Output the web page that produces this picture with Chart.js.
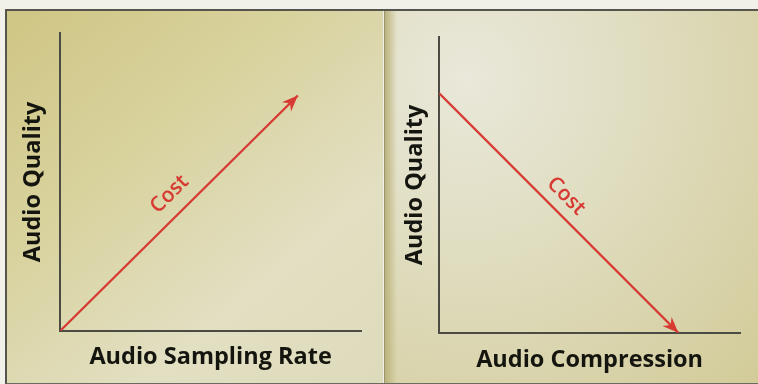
<!DOCTYPE html>
<html lang="en">
<head>
    <meta charset="UTF-8">
    <title>Audio Quality vs Cost</title>
    <script src="https://cdn.jsdelivr.net/npm/chart.js"></script>
    <style>
        body {
            margin: 0;
            background: #f1f1ea;
            width: 758px;
            height: 384px;
            overflow: hidden;
        }

        .frame {
            position: absolute;
            left: 5px;
            top: 9px;
            width: 753px;
            height: 372px;
            border-top: 2px solid #55554d;
            border-left: 2px solid #55554d;
            border-bottom: 2px solid #6a6a60;
        }

        .panel {
            position: absolute;
            top: 0;
        }

        #leftPanel {
            left: 0;
            width: 376px;
            height: 372px;
            background: linear-gradient(140deg, #cfc584 0%, #d8d29d 35%, #e2dfc2 70%, #dedbbd 100%);
        }

        #rightPanel {
            left: 377px;
            width: 376px;
            height: 372px;
            border-left: 1px solid #9a9570;
            background:
                linear-gradient(to right, #bbb37b 0px, rgba(187, 179, 123, 0) 12px),
                radial-gradient(ellipse at 22% 18%, #e9e8da 0%, #dfdcbe 45%, #d2cb98 100%);
        }
    </style>
</head>
<body>

    <div class="frame">
        <div class="panel" id="leftPanel">
            <canvas id="rateChart" width="376" height="372"></canvas>
        </div>
        <div class="panel" id="rightPanel">
            <canvas id="compressionChart" width="374" height="372"></canvas>
        </div>
    </div>

    <script>
        // chart values (both axes run 0..10, no ticks shown)
        const rateX = [0, 7.9];
        const rateY = [0, 7.9];
        const compressionX = [0, 7.95];
        const compressionY = [8.1, 0];

        const yTitle = 'Audio Quality';
        const rateTitle = 'Audio Sampling Rate';
        const compressionTitle = 'Audio Compression';
        const lineLabel = 'Cost';

        const RED = '#d63a32';
        const AXIS = '#4b4b44';
        const TEXT = '#15150f';
        const TITLE_FONT = { family: '"Open Sans", sans-serif', size: 23.5, weight: 'bold', lineHeight: 1.2 };

        function toPoints(xs, ys) {
            return xs.map((x, i) => ({ x: x, y: ys[i] }));
        }

        // draws the arrow head at the last point and the rotated label along the line
        const arrowPlugin = {
            id: 'arrowLabel',
            afterDatasetsDraw(chart, args, opts) {
                const pts = chart.getDatasetMeta(0).data;
                if (pts.length < 2) return;
                const a = pts[0];
                const b = pts[pts.length - 1];
                const ang = Math.atan2(b.y - a.y, b.x - a.x);
                const ctx = chart.ctx;

                ctx.save();
                ctx.fillStyle = RED;
                ctx.translate(b.x, b.y);
                ctx.rotate(ang);
                ctx.beginPath();
                ctx.moveTo(0, 0);
                ctx.lineTo(-16, 6.5);
                ctx.lineTo(-11, 0);
                ctx.lineTo(-16, -6.5);
                ctx.closePath();
                ctx.fill();
                ctx.restore();

                const mx = a.x + (b.x - a.x) * opts.at;
                const my = a.y + (b.y - a.y) * opts.at;
                ctx.save();
                ctx.translate(mx, my);
                ctx.rotate(ang);
                ctx.fillStyle = RED;
                ctx.font = '600 21px "Open Sans", sans-serif';
                ctx.textAlign = 'center';
                ctx.textBaseline = 'middle';
                ctx.fillText(lineLabel, 0, -opts.offset);
                ctx.restore();
            }
        };

        function makeChart(id, points, xTitle, pad, yPad, xPad, labelAt, labelOffset) {
            const ctx = document.getElementById(id).getContext('2d');
            return new Chart(ctx, {
                type: 'scatter',
                data: {
                    datasets: [{
                        data: points,
                        showLine: true,
                        borderColor: RED,
                        borderWidth: 2.3,
                        pointRadius: 0,
                        borderCapStyle: 'butt'
                    }]
                },
                options: {
                    responsive: false,
                    animation: false,
                    events: [],
                    layout: { padding: pad },
                    plugins: {
                        legend: { display: false },
                        tooltip: { enabled: false },
                        arrowLabel: { at: labelAt, offset: labelOffset }
                    },
                    scales: {
                        x: {
                            type: 'linear',
                            min: 0,
                            max: 10,
                            ticks: { display: false },
                            grid: { display: false, drawTicks: false },
                            border: { color: AXIS, width: 2 },
                            title: { display: true, text: xTitle, color: TEXT, font: TITLE_FONT, padding: xPad }
                        },
                        y: {
                            type: 'linear',
                            min: 0,
                            max: 10,
                            ticks: { display: false },
                            grid: { display: false, drawTicks: false },
                            border: { color: AXIS, width: 2 },
                            title: { display: true, text: yTitle, color: TEXT, font: TITLE_FONT, padding: yPad }
                        }
                    }
                },
                plugins: [arrowPlugin]
            });
        }

        makeChart('rateChart', toPoints(rateX, rateY), rateTitle,
            { top: 22, right: 22, bottom: 0, left: 0 },
            { top: 12, bottom: 13 },
            { top: 12, bottom: 12 },
            0.52, 20);

        makeChart('compressionChart', toPoints(compressionX, compressionY), compressionTitle,
            { top: 26, right: 19, bottom: 0, left: 0 },
            { top: 16, bottom: 10 },
            { top: 13, bottom: 9 },
            0.48, 17);
    </script>

</body>
</html>
